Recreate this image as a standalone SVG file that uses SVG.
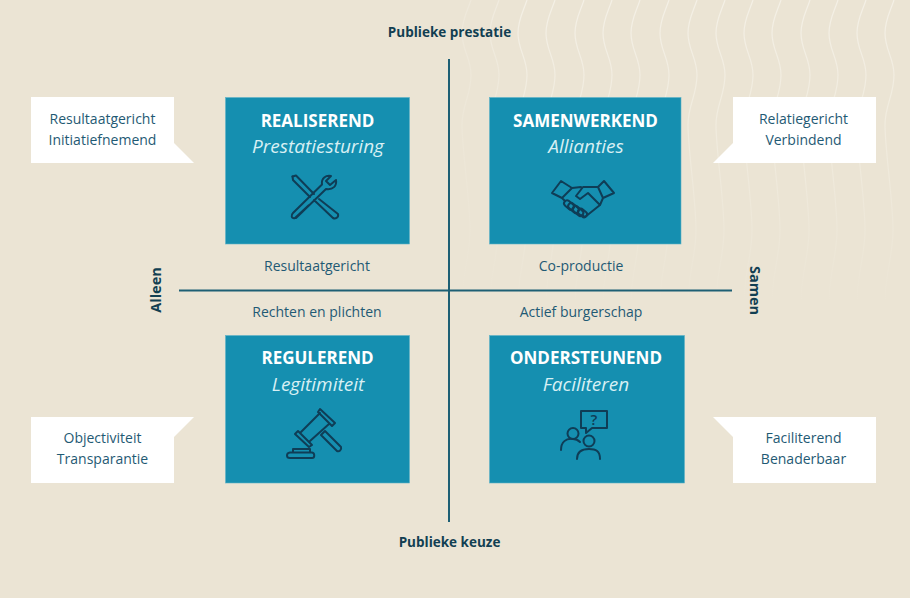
<svg xmlns="http://www.w3.org/2000/svg" width="910" height="598" viewBox="0 0 910 598">
<style>
text{font-family:"Open Sans","Noto Sans","Liberation Sans",sans-serif;text-anchor:middle}
.bg{fill:#ebe4d4}
.box{fill:#158fb0;stroke:#5fb3c6;stroke-width:.6}
.t{font-size:17px;font-weight:700;fill:#fff}
.s{font-size:19px;font-style:italic;fill:#d8f0f4}
.l{font-size:14px;fill:#1f5a74}
.a{font-size:13.500px;font-weight:700;fill:#123f52}
.v{font-size:14.500px;font-weight:700;fill:#123f52}
.call{fill:#fff}
.ax{stroke:#1d5f74;stroke-width:2;fill:none}
.i{fill:none;stroke:#0f3d56;stroke-width:2;stroke-linejoin:round;stroke-linecap:round}
.w{fill:none;stroke:url(#fade);stroke-width:1.200}
</style>
<defs>
<linearGradient id="fade" gradientUnits="userSpaceOnUse" x1="0" y1="0" x2="0" y2="310">
<stop offset="0" stop-color="#f4f0e6"/>
<stop offset=".35" stop-color="#f1ecdf"/>
<stop offset="1" stop-color="#ebe4d4"/>
</linearGradient>
<path id="wave" d="M725 0C721 12 716 20 716 33C716 50 725 58 725 75C725 95 716 105 716 125C716 150 724 200 724 230C724 255 717 270 716 300"/>
</defs>
<rect class="bg" width="910" height="598"/>
<g id="waves">
<use href="#wave" class="w" x="-254" opacity=".4"/>
<use href="#wave" class="w" x="-226" opacity=".6"/>
<use href="#wave" class="w" x="-198"/>
<use href="#wave" class="w" x="-170"/>
<use href="#wave" class="w" x="-141"/>
<use href="#wave" class="w" x="-113"/>
<use href="#wave" class="w" x="-85"/>
<use href="#wave" class="w" x="-56"/>
<use href="#wave" class="w" x="-28"/>
<use href="#wave" class="w"/>
<use href="#wave" class="w" x="28"/>
<use href="#wave" class="w" x="56"/>
<use href="#wave" class="w" x="85"/>
<use href="#wave" class="w" x="113"/>
<use href="#wave" class="w" x="141"/>
<use href="#wave" class="w" x="169"/>
</g>
<g id="connectors">
<path class="ax" d="M449 59V522"/>
<path class="ax" d="M179 290.500H732"/>
</g>
<g id="axis-top"><text class="a" x="449.500" y="37">Publieke prestatie</text></g>
<g id="axis-bottom"><text class="a" x="449.500" y="547">Publieke keuze</text></g>
<g id="axis-left"><text class="v" transform="translate(161 290) rotate(-90)">Alleen</text></g>
<g id="axis-right"><text class="v" transform="translate(749.500 290.500) rotate(90)">Samen</text></g>
<g id="realiserend">
<rect class="box" x="225.500" y="97.500" width="184" height="146.500"/>
<text class="t" x="317.500" y="127">REALISEREND</text>
<text class="s" x="318" y="152.500">Prestatiesturing</text>
<path class="i" d="M292.500 176.500L296 175.500L314 194M319 199L338 214C339 218 335 219 333 218L314 200M309 205L295 218C291 219 291 215 293 213L322 184.500C321 178 326 175 331 176L326 181L330 185L336 180C337 186 333 190 326 189L296 218"/>
<path class="i" d="M292.500 176.500L293 180L310 197"/>
</g>
<g id="samenwerkend">
<rect class="box" x="489.500" y="97.500" width="191.500" height="146.500"/>
<text class="t" x="585.500" y="127">SAMENWERKEND</text>
<text class="s" x="586" y="152.500">Allianties</text>
<path class="i" d="M561 181L552 193L562 198L572 188ZM604 181L614 193L603 198L598 187ZM572 188L581 187M598 187H583L576 196L580 199L588 193L600 205L585 217L582 215M603 198L600 205M562 198L565 201"/>
<g class="i">
<rect x="-3" y="-5.500" width="6" height="11" rx="3" transform="translate(569 205) rotate(-50)"/>
<rect x="-3" y="-6" width="6" height="12" rx="3" transform="translate(573.500 208) rotate(-50)"/>
<rect x="-3" y="-6" width="6" height="12" rx="3" transform="translate(578 211) rotate(-50)"/>
<rect x="-3" y="-5" width="6" height="10" rx="3" transform="translate(582.500 213) rotate(-50)"/>
</g>
</g>
<g id="regulerend">
<rect class="box" x="225.500" y="335.500" width="184" height="147.500"/>
<text class="t" x="317.500" y="364">REGULEREND</text>
<text class="s" x="318" y="391">Legitimiteit</text>
<path class="i" d="M318 412L320 409L335 423L332 426ZM295 434L298 431L312 445L309 447ZM320 413L301 432M329 424L310 441"/>
<path class="i" d="M321 435L325 431L341 447C342 450 339 452 337 451Z"/>
<path class="i" d="M293 452V449H310V452M290 452.500H312C315 453 315 458 312 458H290C286 458 286 453 290 452.500Z"/>
</g>
<g id="ondersteunend">
<rect class="box" x="489.500" y="335.500" width="195" height="147.500"/>
<text class="t" x="586" y="364">ONDERSTEUNEND</text>
<text class="s" x="586" y="391">Faciliteren</text>
<path class="i" d="M581 411H607V428H592L586 433V428H581Z"/>
<text x="594" y="425" font-size="15" font-weight="600" fill="#0f3d56">?</text>
<circle class="i" cx="573" cy="433.500" r="5.500"/>
<circle class="i" cx="589" cy="441" r="5.500"/>
<path class="i" d="M561 450C561 442 566 438 573 439C576 439 578 440 580 442"/>
<path class="i" d="M577 459C577 451 582 449 589 449C596 449 600 451 600 459"/>
</g>
<g id="label-resultaatgericht"><text class="l" x="317" y="271">Resultaatgericht</text></g>
<g id="label-coproductie"><text class="l" x="581" y="271">Co-productie</text></g>
<g id="label-rechten"><text class="l" x="317" y="317">Rechten en plichten</text></g>
<g id="label-actief"><text class="l" x="581" y="317">Actief burgerschap</text></g>
<g id="callout-tl">
<path class="call" d="M31 97H174V143L194 163H31Z"/>
<text class="l" x="102.500" y="124">Resultaatgericht</text>
<text class="l" x="102.500" y="145">Initiatiefnemend</text>
</g>
<g id="callout-tr">
<path class="call" d="M733 97H876V163H713L733 143Z"/>
<text class="l" x="803.500" y="124">Relatiegericht</text>
<text class="l" x="803.500" y="145">Verbindend</text>
</g>
<g id="callout-bl">
<path class="call" d="M31 417H194L174 437V483H31Z"/>
<text class="l" x="102.500" y="443">Objectiviteit</text>
<text class="l" x="102.500" y="464">Transparantie</text>
</g>
<g id="callout-br">
<path class="call" d="M713 417H876V483H733V437Z"/>
<text class="l" x="803.500" y="443">Faciliterend</text>
<text class="l" x="803.500" y="464">Benaderbaar</text>
</g>
</svg>
